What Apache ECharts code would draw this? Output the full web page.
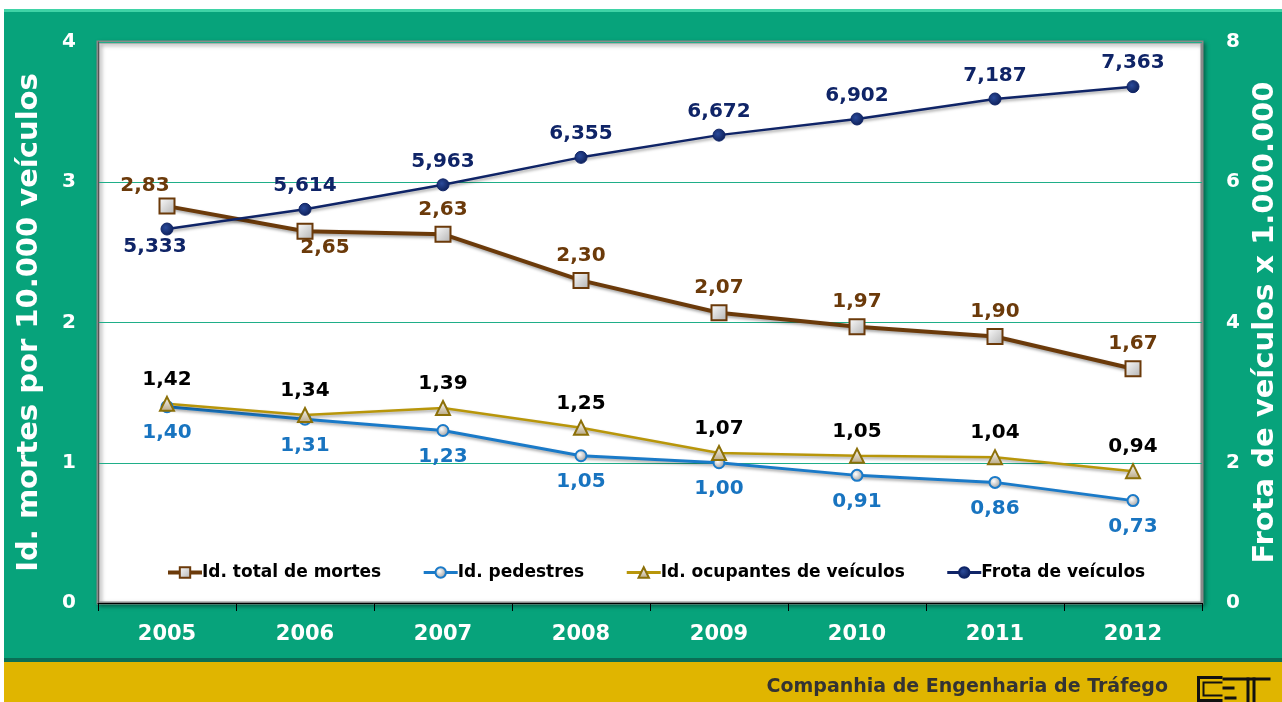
<!DOCTYPE html>
<html>
<head>
<meta charset="utf-8">
<script src="https://cdn.jsdelivr.net/npm/echarts@6/dist/echarts.min.js"></script>
<style>
  html, body { margin: 0; padding: 0; background: #fff; }
  #wrap { position: relative; width: 1282px; height: 702px; overflow: hidden; background: #fff; }
  #green { position: absolute; left: 4px; top: 9px; width: 1278px; height: 652px; background: #07a37b;
           border-top: 3px solid #3fd3a6; box-sizing: border-box; }
  #gline { position: absolute; left: 4px; top: 658px; width: 1278px; height: 4px; background: #0a6e55; }
  #yellow { position: absolute; left: 4px; top: 662px; width: 1278px; height: 40px; background: #e0b500; }
  #chart { position: absolute; left: 0; top: 0; width: 1282px; height: 702px; }
</style>
</head>
<body>
<div id="wrap">
  <div id="green"></div>
  <div id="gline"></div>
  <div id="yellow"></div>
  <div id="chart"></div>
</div>
<script>
// dados
const anos = ['2005', '2006', '2007', '2008', '2009', '2010', '2011', '2012']
const totalMortes = [2.83, 2.65, 2.63, 2.30, 2.07, 1.97, 1.90, 1.67]
const pedestres = [1.40, 1.31, 1.23, 1.05, 1.00, 0.91, 0.86, 0.73]
const ocupantes = [1.42, 1.34, 1.39, 1.25, 1.07, 1.05, 1.04, 0.94]
const frota = [5.333, 5.614, 5.963, 6.355, 6.672, 6.902, 7.187, 7.363]

const FONT = 'DejaVu Sans'
const fmt = (v, d) => v.toFixed(d).replace('.', ',')

const lineShadow = { shadowColor: 'rgba(0,0,0,0.35)', shadowBlur: 3, shadowOffsetX: 1, shadowOffsetY: 2 }

// rótulos com posições especiais
const totalData = totalMortes.map((v, i) => {
  let label = {}
  if (i === 0) label = { position: 'top', offset: [-22, 4] }
  if (i === 1) label = { position: 'bottom', offset: [20, -8] }
  return { value: v, label: label }
})
const frotaData = frota.map((v, i) => {
  let label = {}
  if (i === 0) label = { position: 'bottom', offset: [-12, -6] }
  return { value: v, label: label }
})

const chart = echarts.init(document.getElementById('chart'))
const option = {
  backgroundColor: 'transparent',
  animation: false,
  textStyle: { fontFamily: FONT },
  grid: {
    left: 98, right: 80, top: 42, bottom: 99,
    outerBoundsMode: 'none',
    containLabel: false,
    show: true,
    backgroundColor: '#fff',
    borderColor: '#8a8a8a',
    borderWidth: 3,
    shadowColor: 'rgba(0,0,0,0.35)',
    shadowBlur: 4,
    shadowOffsetX: 2,
    shadowOffsetY: 2
  },
  legend: {
    left: 161, top: 559,
    itemWidth: 34, itemHeight: 13, itemGap: 41,
    textStyle: { fontFamily: FONT, fontWeight: 'bold', fontSize: 17, color: '#000', padding: [0, 0, 0, -5] },
    data: [
      { name: 'Id. total de mortes', lineStyle: { width: 4 } },
      { name: 'Id. pedestres', lineStyle: { width: 3 } },
      { name: 'Id. ocupantes de veículos', lineStyle: { width: 3 } },
      { name: 'Frota de veículos', lineStyle: { width: 3 } }
    ]
  },
  xAxis: {
    type: 'category',
    data: anos,
    boundaryGap: true,
    axisLine: { lineStyle: { color: '#000', width: 1 } },
    axisTick: { show: true, length: 8, lineStyle: { color: '#000' } },
    axisLabel: { color: '#fff', fontWeight: 'bold', fontSize: 21, margin: 21, fontFamily: FONT }
  },
  yAxis: [
    {
      type: 'value', min: 0, max: 4, interval: 1,
      name: 'Id. mortes por 10.000 veículos',
      nameLocation: 'middle', nameGap: 54,
      nameTextStyle: { color: '#fff', fontWeight: 'bold', fontSize: 29, fontFamily: FONT },
      axisLine: { show: true, lineStyle: { color: '#555' } },
      axisTick: { show: false },
      axisLabel: { color: '#fff', fontWeight: 'bold', fontSize: 20, margin: 22, fontFamily: FONT },
      splitLine: { lineStyle: { color: '#1fae88', width: 1 } }
    },
    {
      type: 'value', min: 0, max: 8, interval: 2,
      name: 'Frota de veículos x 1.000.000',
      nameLocation: 'middle', nameGap: 43,
      nameTextStyle: { color: '#fff', fontWeight: 'bold', fontSize: 29, fontFamily: FONT },
      axisLine: { show: false },
      axisTick: { show: false },
      axisLabel: { color: '#fff', fontWeight: 'bold', fontSize: 20, margin: 24, fontFamily: FONT },
      splitLine: { show: false }
    }
  ],
  series: [
    {
      name: 'Id. total de mortes',
      type: 'line',
      data: totalData,
      symbol: 'rect', symbolSize: 15,
      z: 4,
      lineStyle: Object.assign({ color: '#6b3a0a', width: 4 }, lineShadow),
      itemStyle: {
        color: new echarts.graphic.LinearGradient(0, 0, 1, 1, [
          { offset: 0, color: '#ffffff' }, { offset: 1, color: '#b0b0b0' }
        ]),
        borderColor: '#6b3a0a', borderWidth: 2
      },
      label: {
        show: true, position: 'top', distance: 6,
        color: '#6b3a0a', fontWeight: 'bold', fontSize: 20, fontFamily: FONT,
        formatter: p => fmt(p.value, 2)
      }
    },
    {
      name: 'Id. pedestres',
      type: 'line',
      data: pedestres,
      symbol: 'circle', symbolSize: 11,
      z: 3,
      lineStyle: Object.assign({ color: '#1a7ac8', width: 3 }, lineShadow),
      itemStyle: {
        color: new echarts.graphic.RadialGradient(0.4, 0.4, 0.6, [
          { offset: 0, color: '#ffffff' }, { offset: 1, color: '#9a9a9a' }
        ]),
        borderColor: '#1a7ac8', borderWidth: 2
      },
      label: {
        show: true, position: 'bottom', distance: 10,
        color: '#1874c0', fontWeight: 'bold', fontSize: 20, fontFamily: FONT,
        formatter: p => fmt(p.value, 2)
      }
    },
    {
      name: 'Id. ocupantes de veículos',
      type: 'line',
      data: ocupantes,
      symbol: 'triangle', symbolSize: 14,
      z: 3,
      lineStyle: Object.assign({ color: '#b8960a', width: 2.5 }, lineShadow),
      itemStyle: {
        color: new echarts.graphic.LinearGradient(0, 0, 0, 1, [
          { offset: 0, color: '#ffffff' }, { offset: 1, color: '#b5a580' }
        ]),
        borderColor: '#8c7008', borderWidth: 2
      },
      label: {
        show: true, position: 'top', distance: 6,
        color: '#000', fontWeight: 'bold', fontSize: 20, fontFamily: FONT,
        formatter: p => fmt(p.value, 2)
      }
    },
    {
      name: 'Frota de veículos',
      type: 'line',
      yAxisIndex: 1,
      data: frotaData,
      symbol: 'circle', symbolSize: 12,
      z: 4,
      lineStyle: Object.assign({ color: '#0f2467', width: 2.5 }, lineShadow),
      itemStyle: {
        color: new echarts.graphic.RadialGradient(0.4, 0.4, 0.7, [
          { offset: 0, color: '#2a4a9a' }, { offset: 1, color: '#0a1a50' }
        ]),
        borderColor: '#0f2467', borderWidth: 1
      },
      label: {
        show: true, position: 'top', distance: 7,
        color: '#0f2467', fontWeight: 'bold', fontSize: 20, fontFamily: FONT,
        formatter: p => fmt(p.value, 3)
      }
    }
  ],
  graphic: [
    {
      type: 'text', right: 114, top: 678,
      style: { text: 'Companhia de Engenharia de Tráfego', fill: '#333', font: 'bold 19px "DejaVu Sans"' }
    },
    // logo CET
    {
      type: 'group', left: 1196, top: 675,
      children: [
        { type: 'polyline', shape: { points: [[26, 2], [2, 2], [2, 25], [26, 25]] }, style: { stroke: '#111', fill: null, lineWidth: 3 } },
        { type: 'polyline', shape: { points: [[26, 7], [7, 7], [7, 20], [26, 20]] }, style: { stroke: '#111', fill: null, lineWidth: 2 } },
        { type: 'rect', shape: { x: 26, y: 11, width: 12, height: 3 }, style: { fill: '#111' } },
        { type: 'rect', shape: { x: 26, y: 2, width: 48, height: 3 }, style: { fill: '#111' } },
        { type: 'rect', shape: { x: 50, y: 2, width: 3, height: 25 }, style: { fill: '#111' } },
        { type: 'rect', shape: { x: 56, y: 2, width: 3, height: 25 }, style: { fill: '#111' } },
        { type: 'rect', shape: { x: 28, y: 21, width: 12, height: 3 }, style: { fill: '#111' } }
      ]
    }
  ]
}
chart.setOption(option)
window.addEventListener('resize', () => { chart.resize() })
</script>
</body>
</html>
